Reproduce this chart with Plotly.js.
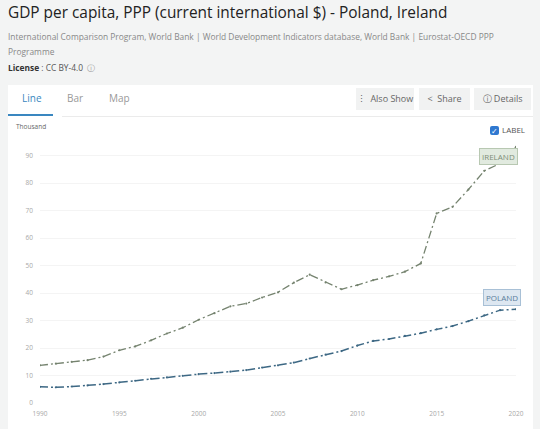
<!DOCTYPE html>
<html><head><meta charset="utf-8">
<script src="https://cdn.plot.ly/plotly-3.0.1.min.js"></script>
<style>
body{margin:0;width:540px;height:429px;overflow:hidden;background:#f3f4f4;font-family:"Open Sans",sans-serif;position:relative}
.abs{position:absolute;white-space:nowrap}
#card{position:absolute;left:8px;top:85px;width:525px;height:344px;background:#fff}
.btn{position:absolute;top:88px;height:22px;background:#f1f2f2;color:#666;font-size:9px;line-height:22px;text-align:center}
#chart{position:absolute;left:8px;top:120px;width:525px;height:309px}
</style></head><body>
<div class="abs" style="left:8px;top:2px;font-size:15.4px;color:#222;">GDP per capita, PPP (current international $) - Poland, Ireland</div>
<div class="abs" style="left:8px;top:31px;font-size:8.4px;color:#888;">International Comparison Program, World Bank | World Development Indicators database, World Bank | Eurostat-OECD PPP</div>
<div class="abs" style="left:8px;top:46px;font-size:8.4px;color:#888;">Programme</div>
<div class="abs" style="left:8px;top:62px;font-size:8.4px;color:#555;"><b style="color:#333">License</b> : CC BY-4.0 &nbsp;<span style="color:#999">ⓘ</span></div>
<div id="card"></div>
<div class="abs" style="left:22px;top:91px;font-size:10px;color:#3a87c0;">Line</div>
<div class="abs" style="left:67px;top:91px;font-size:10px;color:#999;">Bar</div>
<div class="abs" style="left:109px;top:91px;font-size:10px;color:#999;">Map</div>
<div class="abs" style="left:8px;top:114px;width:45px;height:2px;background:#3a87c0"></div>
<div class="abs" style="left:62px;top:116px;width:471px;height:1px;background:#ebebeb"></div>
<div class="btn" style="left:356px;width:58px;">⋮ &nbsp;Also Show</div>
<div class="btn" style="left:419px;width:51px;">&lt;&nbsp; Share</div>
<div class="btn" style="left:474px;width:57px;">ⓘ Details</div>
<div class="abs" style="left:16px;top:122px;font-size:6.5px;color:#666;">Thousand</div>
<div id="chart"></div>
<div class="abs" style="left:490px;top:126px;width:9px;height:9px;background:#2f78d0;border-radius:2px;color:#fff;font-size:8px;line-height:9px;text-align:center">✓</div>
<div class="abs" style="left:502px;top:124px;font-size:8px;color:#555;">LABEL</div>
<script>
const years = [1990,1991,1992,1993,1994,1995,1996,1997,1998,1999,2000,2001,2002,2003,2004,2005,2006,2007,2008,2009,2010,2011,2012,2013,2014,2015,2016,2017,2018,2019,2020];
const ireland = [13.7,14.3,15.0,15.6,16.9,19.2,20.6,22.8,25.3,27.4,30.3,32.7,35.2,36.2,38.4,40.3,43.8,46.7,43.9,41.4,42.9,44.7,46.1,47.8,50.8,69.0,71.4,77.7,84.5,87.2,93.2];
const poland = [5.9,5.7,6.0,6.4,6.9,7.5,8.1,8.8,9.3,9.9,10.5,10.9,11.4,12.0,12.9,13.7,14.7,16.2,17.6,18.9,20.9,22.6,23.3,24.4,25.4,26.8,28.0,29.8,31.9,33.8,34.1];
const seriesNames = ["IRELAND","POLAND"];
const xTicks = [1990,1995,2000,2005,2010,2015,2020];
const yTicks = [0,10,20,30,40,50,60,70,80,90];
const labelPos = [[2018.9,89.8],[2019.1,38.4]];

const traces = [
 {x:years,y:ireland,mode:'lines+markers',line:{color:'#75836f',width:1.3,dash:'8px,3px,2px,3px'},marker:{size:2.2,color:'#75836f'},hoverinfo:'none'},
 {x:years,y:poland,mode:'lines+markers',line:{color:'#3d6884',width:1.5,dash:'8px,3px,2px,3px'},marker:{size:2.2,color:'#3d6884'},hoverinfo:'none'}
];
const layout = {
 width:525,height:309,margin:{l:32,r:17.3,t:21.75,b:26},
 paper_bgcolor:'rgba(0,0,0,0)',plot_bgcolor:'rgba(0,0,0,0)',showlegend:false,
 font:{family:'Open Sans',size:6.5,color:'#a8a8a8'},
 xaxis:{range:[1990,2020],tickvals:xTicks,ticktext:xTicks.map(String),showgrid:false,zeroline:false,showline:false,ticks:'',ticklen:0,ticklabelstandoff:5},
 yaxis:{range:[0,95],tickvals:yTicks,ticktext:yTicks.map(String),gridcolor:'#f4f4f4',gridwidth:1,zeroline:false,showline:false,ticks:'',ticklabelstandoff:6},
 annotations:[
  {x:labelPos[0][0],y:labelPos[0][1],xref:'x',yref:'y',text:seriesNames[0],showarrow:false,font:{size:8,color:'#7e8e78'},bgcolor:'#e1eadf',bordercolor:'#b8c8b2',borderwidth:1,borderpad:2},
  {x:labelPos[1][0],y:labelPos[1][1],xref:'x',yref:'y',text:seriesNames[1],showarrow:false,font:{size:8,color:'#5a7d9c'},bgcolor:'#dde7f1',bordercolor:'#a8c0d6',borderwidth:1,borderpad:2}
 ]
};
Plotly.newPlot('chart',traces,layout,{staticPlot:true,displayModeBar:false});
</script>
</body></html>
